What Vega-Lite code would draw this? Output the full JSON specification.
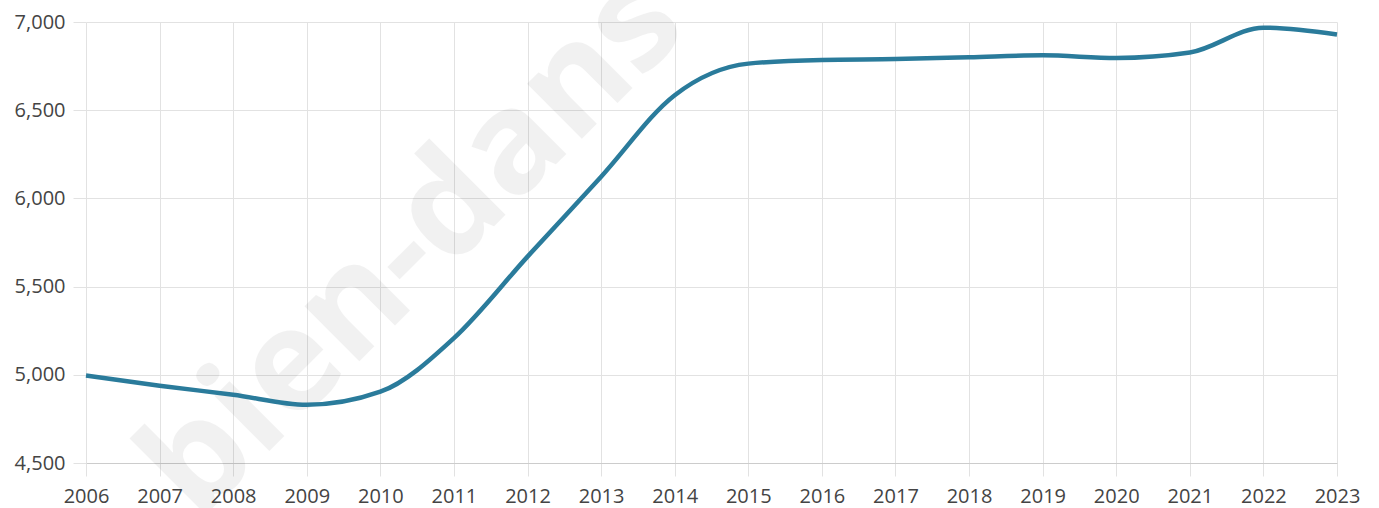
{
  "$schema": "https://vega.github.io/schema/vega-lite/v6.json",
  "width": 1251,
  "height": 441,
  "autosize": "none",
  "padding": {"left": 86, "top": 22, "right": 42, "bottom": 45},
  "background": "white",
  "config": {
    "view": {"stroke": null},
    "font": "Open Sans"
  },
  "datasets": {
    "series": [
      {"year": 2006, "value": 4996},
      {"year": 2007, "value": 4938},
      {"year": 2008, "value": 4887},
      {"year": 2009, "value": 4830},
      {"year": 2010, "value": 4904},
      {"year": 2011, "value": 5208},
      {"year": 2012, "value": 5670},
      {"year": 2013, "value": 6123},
      {"year": 2014, "value": 6585},
      {"year": 2015, "value": 6764},
      {"year": 2016, "value": 6785},
      {"year": 2017, "value": 6790},
      {"year": 2018, "value": 6800},
      {"year": 2019, "value": 6811},
      {"year": 2020, "value": 6796},
      {"year": 2021, "value": 6827},
      {"year": 2022, "value": 6968},
      {"year": 2023, "value": 6929}
    ],
    "mark": [
      {"year": 2010.45, "value": 5730, "label": "bien-dans"}
    ]
  },
  "layer": [
    {
      "data": {"name": "mark"},
      "mark": {"type": "text", "angle": -45, "fontSize": 142, "fontWeight": "bold", "font": "Open Sans", "fill": "#000000", "opacity": 0.05, "align": "center", "baseline": "middle", "clip": false},
      "encoding": {
        "x": {"field": "year", "type": "quantitative"},
        "y": {"field": "value", "type": "quantitative"},
        "text": {"field": "label"}
      }
    },
    {
      "data": {"name": "series"},
      "mark": {"type": "line", "interpolate": "monotone", "color": "#2a7b9b", "strokeWidth": 4.5},
      "encoding": {
        "x": {
          "field": "year", "type": "quantitative",
          "scale": {"domain": [2006, 2023], "nice": false, "zero": false},
          "axis": {
            "title": null,
            "values": [2006,2007,2008,2009,2010,2011,2012,2013,2014,2015,2016,2017,2018,2019,2020,2021,2022,2023],
            "format": "d",
            "labelFontSize": 20,
            "labelColor": "#444444",
            "labelPadding": 10,
            "tickSize": 13,
            "tickColor": "#e2e2e2",
            "gridColor": "#e2e2e2",
            "domainColor": "#cccccc",
            "labelFlush": false,
            "labelOverlap": false
          }
        },
        "y": {
          "field": "value", "type": "quantitative",
          "scale": {"domain": [4500, 7000], "nice": false, "zero": false},
          "axis": {
            "title": null,
            "values": [4500, 5000, 5500, 6000, 6500, 7000],
            "format": ",d",
            "labelFontSize": 20,
            "labelColor": "#444444",
            "labelPadding": 8,
            "tickSize": 13,
            "tickColor": "#e2e2e2",
            "gridColor": "#e2e2e2",
            "domain": false,
            "labelFlush": false
          }
        }
      }
    }
  ]
}
